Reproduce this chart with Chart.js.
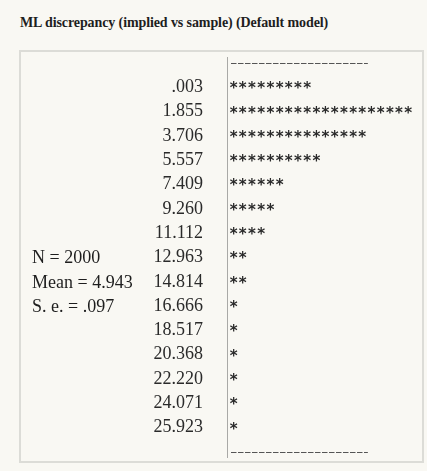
<!DOCTYPE html>
<html lang="en">
<head>
    <meta charset="UTF-8" />
    <title>ML discrepancy (implied vs sample)</title>
    <script src="https://cdn.jsdelivr.net/npm/chart.js"></script>
    <style>
        body { margin: 0; background: #f9f8f3; font-family: "Liberation Serif", "Times New Roman", serif; overflow: hidden; }
        .title { position: absolute; left: 20px; top: 15px; font-family: "Liberation Serif", serif; font-size: 14px; font-weight: bold; color: #1e1e1e; letter-spacing: -0.1px; }
        .box { position: absolute; left: 19px; top: 50px; width: 401px; height: 409px; border: 2px solid #dcdcd7; }
        #histChart { position: absolute; left: 0; top: 0; }
    </style>
</head>
<body>

<div class="title">ML discrepancy (implied vs sample) (Default model)</div>
<div class="box"></div>
<canvas id="histChart" width="427" height="471"></canvas>

<script>
// bootstrap histogram rows (lower bound of each bin) and number of stars
const binLabels = ['.003', '1.855', '3.706', '5.557', '7.409', '9.260', '11.112', '12.963',
                   '14.814', '16.666', '18.517', '20.368', '22.220', '24.071', '25.923'];
const starCounts = [9, 20, 15, 10, 6, 5, 4, 2, 2, 1, 1, 1, 1, 1, 1];

// summary text shown left of the rows
const statLabels = ['N = 2000', 'Mean = 4.943', 'S. e. = .097'];
const statRows = ['12.963', '14.814', '16.666'];

const FONT = '"Liberation Serif", "Times New Roman", serif';

// blank rows at top and bottom hold the dashed frame lines
const labels = [''].concat(binLabels, ['']);
const counts = [null].concat(starCounts, [null]);

const starPlugin = {
    id: 'stars',
    afterDatasetsDraw(chart) {
        const ctx = chart.ctx;
        const x = chart.scales.x, y = chart.scales.y;
        const area = chart.chartArea;
        ctx.save();

        // axis line, a little longer than the rows
        ctx.strokeStyle = '#a9a9a6';
        ctx.lineWidth = 1;
        ctx.beginPath();
        ctx.moveTo(Math.round(area.left) + 0.5, area.top - 6);
        ctx.lineTo(Math.round(area.left) + 0.5, area.bottom + 6);
        ctx.stroke();

        ctx.fillStyle = '#2a2a2a';
        ctx.font = 'bold 15px "DejaVu Sans", sans-serif';
        ctx.textAlign = 'center';
        ctx.textBaseline = 'middle';
        counts.forEach((n, row) => {
            if (!n) return;
            const py = y.getPixelForValue(row) + 2;
            for (let i = 0; i < n; i++) {
                ctx.fillText('*', x.getPixelForValue(i + 0.5) + 2, py);
            }
        });

        // dashed lines on the first and last (blank) rows
        ctx.strokeStyle = '#555';
        ctx.setLineDash([5.5, 1.5]);
        [0, labels.length - 1].forEach(row => {
            const py = Math.round(y.getPixelForValue(row)) + 0.5;
            ctx.beginPath();
            ctx.moveTo(x.getPixelForValue(0) + 4, py);
            ctx.lineTo(x.getPixelForValue(15) + 3, py);
            ctx.stroke();
        });
        ctx.setLineDash([]);

        // summary statistics on the left
        ctx.fillStyle = '#1e1e1e';
        ctx.font = '18px ' + FONT;
        ctx.textAlign = 'left';
        ctx.textBaseline = 'middle';
        statLabels.forEach((s, i) => {
            const row = labels.indexOf(statRows[i]);
            ctx.fillText(s, y.left, y.getPixelForValue(row) + 1);
        });
        ctx.restore();
    }
};

const ctx = document.getElementById('histChart').getContext('2d');
new Chart(ctx, {
    type: 'bar',
    data: {
        labels: labels,
        datasets: [{
            data: counts,
            backgroundColor: 'rgba(0,0,0,0)',
            borderWidth: 0
        }]
    },
    options: {
        indexAxis: 'y',
        responsive: false,
        animation: false,
        layout: { padding: { left: 32, top: 63, bottom: 19, right: 7 } },
        plugins: { legend: { display: false }, tooltip: { enabled: false } },
        scales: {
            x: { display: false, min: 0, max: 21 },
            y: {
                offset: false,
                // invisible tick marks push the labels away from the axis
                grid: { display: true, drawOnChartArea: false, drawTicks: true, tickLength: 24, color: 'rgba(0,0,0,0)' },
                border: { display: false },
                ticks: { color: '#2a2a2a', padding: 0, autoSkip: false, font: { family: FONT, size: 18 } },
                afterFit(scale) { scale.width = 195; }
            }
        }
    },
    plugins: [starPlugin]
});
</script>

</body>
</html>
